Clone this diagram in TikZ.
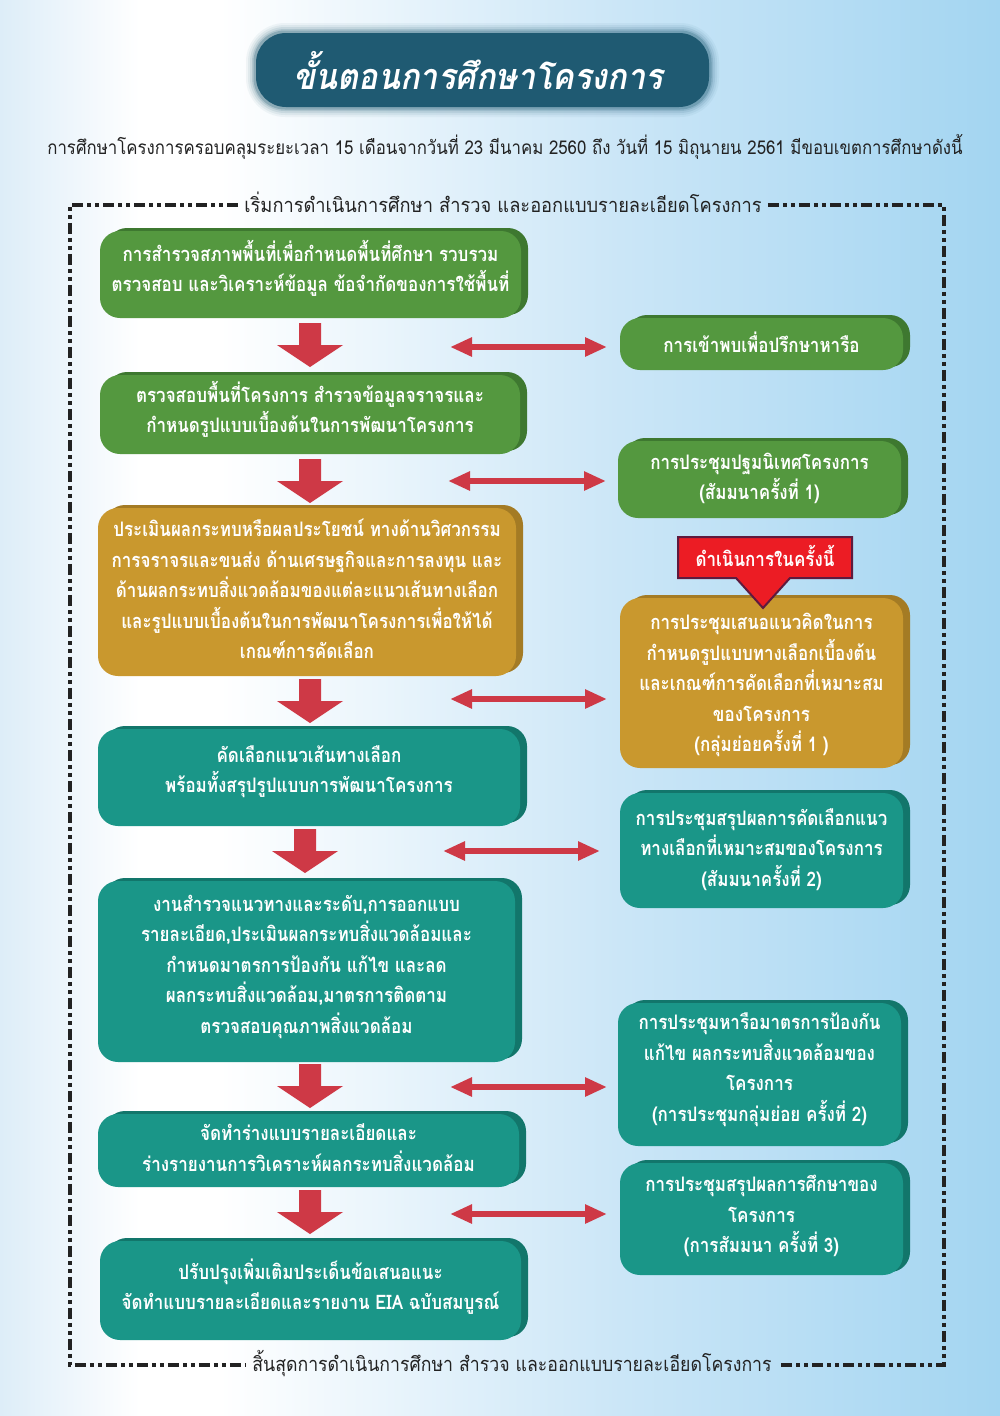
\documentclass[tikz,border=0pt]{standalone}
\usepackage{fontspec}
\newfontfamily\thaiBox[Script=Thai,FakeStretch=0.85]{Loma}
\newfontfamily\thaiSub[Script=Thai,FakeStretch=0.885]{Loma}
\newfontfamily\thaiFrame[Script=Thai,FakeStretch=0.913]{Loma}
\newfontfamily\thaiFrameB[Script=Thai,FakeStretch=0.885]{Loma}
\newfontfamily\thaiTitle[Script=Thai,FakeStretch=0.9]{Loma}
\usetikzlibrary{shadows,arrows.meta,calc}
\definecolor{bgL}{HTML}{DDEDF8}
\definecolor{bgM}{HTML}{CBE6F7}
\definecolor{bgR}{HTML}{A3D5F1}
\definecolor{grnF}{HTML}{54983F}
\definecolor{grnS}{HTML}{3E7830}
\definecolor{gldF}{HTML}{C9982E}
\definecolor{gldS}{HTML}{A47B24}
\definecolor{tealF}{HTML}{1A9688}
\definecolor{tealS}{HTML}{12766B}
\definecolor{arrRed}{HTML}{CE3946}
\definecolor{titleC}{HTML}{1F5A72}
\definecolor{tagRed}{HTML}{EC1C24}
\definecolor{tagLine}{HTML}{5E1A3E}
\definecolor{txtDark}{HTML}{222222}
\pgfdeclarehorizontalshading{bgshade}{100bp}{color(0bp)=(bgL); color(25bp)=(bgL); color(32bp)=(white); color(36bp)=(white); color(56bp)=(bgM); color(75bp)=(bgR); color(100bp)=(bgR)}
\tikzset{
  boxbase/.style={rounded corners=20pt, inner sep=0pt},
  boxtext/.style={text=white, align=center, inner sep=0pt,
    font=\thaiBox\bfseries\fontsize{20}{30.5}\selectfont},
  grnbox/.style={boxbase, fill=grnF, general shadow={fill=grnS, shadow xshift=7pt, shadow yshift=3pt}},
  gldbox/.style={boxbase, fill=gldF, general shadow={fill=gldS, shadow xshift=7pt, shadow yshift=3pt}},
  tealbox/.style={boxbase, fill=tealF, general shadow={fill=tealS, shadow xshift=7pt, shadow yshift=3pt}},
  dblarrow/.style={draw=arrRed, line width=6.5pt, {Triangle[length=22pt,width=18pt]}-{Triangle[length=22pt,width=18pt]}},
  frameline/.style={draw=txtDark, line width=3.5pt, dash pattern=on 11pt off 4pt on 4pt off 4pt on 4pt off 4pt},
  framelabel/.style={font=\thaiFrame\fontsize{20}{22}\selectfont, text=txtDark, inner sep=6pt},
}
% \BOX{name}{style}{x1}{y1}{x2}{y2}{text offset}{text}
\newcommand\BOX[8]{%
  \path node[#2, minimum width={(#5-#3-7)*1pt}, minimum height={(#6-#4-3)*1pt}] (#1) at ({(#3+#5-7)/2},{(#4+#6+3)/2}) {};
  \node[boxtext] (#1t) at ($(#1.center)+(0,#7)$) {#8};}
\newcommand\DARR[2]{\fill[arrRed] ({#1-11},{#2}) -- ({#1+11},{#2}) -- ({#1+11},{#2+22}) -- ({#1+33},{#2+22}) -- ({#1},{#2+44}) -- ({#1-33},{#2+22}) -- ({#1-11},{#2+22}) -- cycle;}
\begin{document}
\begin{tikzpicture}[x=1pt,y=-1pt]
\useasboundingbox (0,0) rectangle (1000,1416);
\shade[shading=bgshade] (0,0) rectangle (1000,1416);

% title
\foreach \e/\o in {9/0.05,7/0.07,5/0.1,3/0.15,1.5/0.25}{
  \fill[titleC, opacity=\o, rounded corners={30pt+\e*1pt}] ({255-\e},{32-\e}) rectangle ({710+\e},{108+\e});
}
\fill[titleC, rounded corners=30pt] (256,33) rectangle (709,107);
\node[text=white, font=\thaiTitle\bfseries\itshape\fontsize{36}{40}\selectfont] (title) at (478,71) {ขั้นตอนการศึกษาโครงการ};

\node[font=\thaiSub\fontsize{19}{22}\selectfont, text=txtDark] (sub) at (505,147) {การศึกษาโครงการครอบคลุมระยะเวลา 15 เดือนจากวันที่ 23 มีนาคม 2560 ถึง วันที่ 15 มิถุนายน 2561 มีขอบเขตการศึกษาดังนี้};

% frame
\node[framelabel] (topL) at (503,202) {เริ่มการดำเนินการศึกษา สำรวจ และออกแบบรายละเอียดโครงการ};
\node[framelabel, font=\thaiFrameB\fontsize{20}{22}\selectfont] (botL) at (512,1363) {สิ้นสุดการดำเนินการศึกษา สำรวจ และออกแบบรายละเอียดโครงการ};
\coordinate (cTL) at (70,205);
\coordinate (cTR) at (944,205);
\coordinate (cBL) at (70,1365);
\coordinate (cBR) at (944,1365);
\draw[frameline] (topL.west |- cTL) -- (cTL) -- (cBL) -- (botL.west |- cBL);
\draw[frameline] (topL.east |- cTR) -- (cTR) -- (cBR) -- (botL.east |- cBR);

% left column
\BOX{b1}{grnbox}{100}{228}{528}{318}{-6}{การสำรวจสภาพพื้นที่เพื่อกำหนดพื้นที่ศึกษา รวบรวม\\ตรวจสอบ และวิเคราะห์ข้อมูล ข้อจำกัดของการใช้พื้นที่}
\BOX{b2}{grnbox}{100}{372}{527}{454}{-5}{ตรวจสอบพื้นที่โครงการ สำรวจข้อมูลจราจรและ\\กำหนดรูปแบบเบื้องต้นในการพัฒนาโครงการ}
\BOX{b3}{gldbox}{98}{505}{523}{676}{-3}{ประเมินผลกระทบหรือผลประโยชน์ ทางด้านวิศวกรรม\\การจราจรและขนส่ง ด้านเศรษฐกิจและการลงทุน และ\\ด้านผลกระทบสิ่งแวดล้อมของแต่ละแนวเส้นทางเลือก\\และรูปแบบเบื้องต้นในการพัฒนาโครงการเพื่อให้ได้\\เกณฑ์การคัดเลือก}
\BOX{b4}{tealbox}{98}{726}{527}{826}{-6}{คัดเลือกแนวเส้นทางเลือก\\พร้อมทั้งสรุปรูปแบบการพัฒนาโครงการ}
\BOX{b5}{tealbox}{98}{878}{522}{1062}{-5}{งานสำรวจแนวทางและระดับ,การออกแบบ\\รายละเอียด,ประเมินผลกระทบสิ่งแวดล้อมและ\\กำหนดมาตรการป้องกัน แก้ไข และลด\\ผลกระทบสิ่งแวดล้อม,มาตรการติดตาม\\ตรวจสอบคุณภาพสิ่งแวดล้อม}
\BOX{b6}{tealbox}{98}{1111}{526}{1187}{-3}{จัดทำร่างแบบรายละเอียดและ\\ร่างรายงานการวิเคราะห์ผลกระทบสิ่งแวดล้อม}
\BOX{b7}{tealbox}{100}{1238}{528}{1340}{-4}{ปรับปรุงเพิ่มเติมประเด็นข้อเสนอแนะ\\จัดทำแบบรายละเอียดและรายงาน EIA ฉบับสมบูรณ์}

% right column
\BOX{r1}{grnbox}{620}{315}{910}{370}{-2}{การเข้าพบเพื่อปรึกษาหารือ}
\BOX{r2}{grnbox}{618}{438}{908}{518}{-1}{การประชุมปฐมนิเทศโครงการ\\(สัมมนาครั้งที่ 1)}
\BOX{r3}{gldbox}{620}{595}{910}{768}{2}{การประชุมเสนอแนวคิดในการ\\กำหนดรูปแบบทางเลือกเบื้องต้น\\และเกณฑ์การคัดเลือกที่เหมาะสม\\ของโครงการ\\(กลุ่มย่อยครั้งที่ 1 )}
\BOX{r4}{tealbox}{620}{790}{910}{908}{-1}{การประชุมสรุปผลการคัดเลือกแนว\\ทางเลือกที่เหมาะสมของโครงการ\\(สัมมนาครั้งที่ 2)}
\BOX{r5}{tealbox}{618}{1000}{908}{1146}{-5}{การประชุมหารือมาตรการป้องกัน\\แก้ไข ผลกระทบสิ่งแวดล้อมของ\\โครงการ\\(การประชุมกลุ่มย่อย ครั้งที่ 2)}
\BOX{r6}{tealbox}{620}{1160}{910}{1275}{-3}{การประชุมสรุปผลการศึกษาของ\\โครงการ\\(การสัมมนา ครั้งที่ 3)}

% tag
\draw[fill=tagRed, draw=tagLine, line width=2pt, line join=miter] (678,537) -- (852,537) -- (852,578) -- (790,578) -- (763,608) -- (736,578) -- (678,578) -- cycle;
\node[text=white, font=\thaiBox\bfseries\fontsize{20}{22}\selectfont] (tag) at (765,556) {ดำเนินการในครั้งนี้};

% down arrows
\DARR{310}{323}
\DARR{310}{459}
\DARR{310}{679}
\DARR{305}{829}
\DARR{310}{1064}
\DARR{310}{1190}

% double arrows
\coordinate (h1a) at (450,347); \coordinate (h1b) at (607,347);
\coordinate (h2a) at (448,481); \coordinate (h2b) at (606,481);
\coordinate (h3a) at (450,699); \coordinate (h3b) at (607,699);
\coordinate (h4a) at (443,851); \coordinate (h4b) at (600,851);
\coordinate (h5a) at (450,1087); \coordinate (h5b) at (607,1087);
\coordinate (h6a) at (450,1214); \coordinate (h6b) at (607,1214);
\foreach \i in {1,...,6}{\draw[dblarrow] (h\i a) -- (h\i b);}
\end{tikzpicture}
\end{document}
